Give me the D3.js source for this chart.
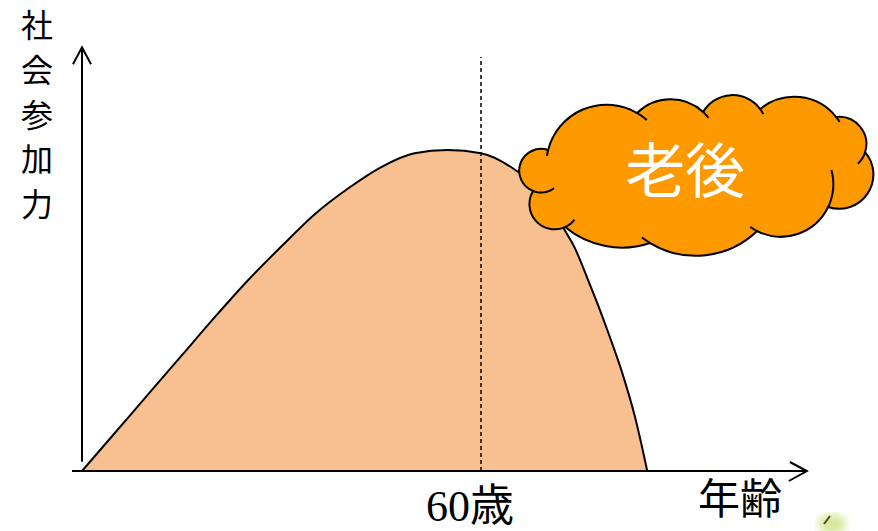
<!DOCTYPE html>
<html>
<head>
<meta charset="utf-8">
<script src="https://cdn.jsdelivr.net/npm/d3@7"></script>
<style>
  html, body { margin: 0; padding: 0; background: #fff; }
  svg { display: block; }
</style>
</head>
<body>
<svg id="chart" width="878" height="531"></svg>
<script>
// ---- data ----
const ages = [0, 5, 10, 15, 20, 25, 30, 35, 40, 45, 50, 55, 60, 65, 69, 72.3, 74.1, 76.1, 77.6, 79.1, 81.2, 83.2, 85];
const participation = [0, 12, 24, 36, 48, 59.5, 70, 80, 88, 94.7, 99, 100, 99, 94, 87, 76, 69.5, 59.5, 51.7, 43.3, 30.8, 16.5, 0];
const markerAge = 60;
const markerLabel = "60歳";
const xAxisLabel = "年齢";
const yAxisLabel = "社会参加力";
const cloudLabel = "老後";
const cloudCenter = [92.2, 92.2]; // age, participation

// cloud outline (px offsets from its centre) and bulge of each lobe
const cloudPts = [[-147,-25],[-58,-62],[8,-63],[65,-66],[141,-58],[170,-23],[133,32],[62,56],[-45,68],[-130,52],[-162,16]];
const cloudBulge = [0.25,0.2,0.27,0.21,0.27,0.38,0.21,0.17,0.13,0.37,0.49];
const creaseStart = [6,0,0,0,0,0,38,0,0,12,22];
const creaseEnd = [12,8,6,6,14,0,8,10,0,0,0];

// ---- scales ----
const svg = d3.select("#chart");
const x = d3.scaleLinear().domain([0, 60]).range([82, 481]);
const y = d3.scaleLinear().domain([0, 100]).range([471, 150]);

const pts = ages.map((a, i) => [a, participation[i]]);

// area
svg.append("path")
  .datum(pts)
  .attr("fill", "#F8C090")
  .attr("d", d3.area().x(d => x(d[0])).y0(y(0)).y1(d => y(d[1])).curve(d3.curveMonotoneX));

// curve
svg.append("path")
  .datum(pts)
  .attr("fill", "none")
  .attr("stroke", "#000")
  .attr("stroke-width", 2)
  .attr("d", d3.line().x(d => x(d[0])).y(d => y(d[1])).curve(d3.curveMonotoneX));

// dashed marker
svg.append("line")
  .attr("x1", x(markerAge)).attr("x2", x(markerAge))
  .attr("y1", y(0)).attr("y2", y(129))
  .attr("stroke", "#111").attr("stroke-width", 1.6)
  .attr("stroke-dasharray", "4,3");

// axes
const ax = svg.append("g").attr("stroke", "#000").attr("fill", "none").attr("stroke-width", 2);
const xs = x(-1.5), xe = x(109), y0 = y(0);
ax.append("line").attr("x1", xs).attr("x2", xe).attr("y1", y0).attr("y2", y0);
ax.append("path").attr("d", `M${xe-17},${y0-9}L${xe},${y0}L${xe-18},${y0+10}`);
const yTop = y(132), yBot = y(2.9), x0 = x(0);
ax.append("line").attr("x1", x0).attr("x2", x0).attr("y1", yBot).attr("y2", yTop);
ax.append("path").attr("d", `M${x0-9},${yTop+17}L${x0},${yTop}L${x0+9},${yTop+17}`);

// labels
const cjk = "'Noto Sans CJK JP', 'Noto Sans', sans-serif";
svg.append("g").selectAll("text")
  .data(Array.from(yAxisLabel))
  .join("text")
  .attr("x", 37)
  .attr("y", (d, i) => 37 + i * 44.8)
  .attr("text-anchor", "middle")
  .attr("font-family", cjk)
  .attr("font-size", 32)
  .attr("fill", "#000")
  .text(d => d);

svg.append("text")
  .attr("x", x(markerAge) - 11).attr("y", 521)
  .attr("text-anchor", "middle")
  .attr("font-family", "'Liberation Serif', 'Noto Sans CJK JP', serif")
  .attr("font-size", 44)
  .attr("fill", "#000")
  .text(markerLabel);

svg.append("text")
  .attr("x", 740).attr("y", 514)
  .attr("text-anchor", "middle")
  .attr("font-family", cjk)
  .attr("font-size", 42)
  .attr("fill", "#000")
  .text(xAxisLabel);

// ---- cloud ----
const cx = x(cloudCenter[0]), cy = y(cloudCenter[1]);
const P = cloudPts.map(p => [cx + p[0], cy + p[1]]);
const n = P.length;
const geo = P.map((A, i) => {
  const B = P[(i + 1) % n];
  const dx = B[0] - A[0], dy = B[1] - A[1];
  const c = Math.hypot(dx, dy);
  const nx = dy / c, ny = -dx / c;
  const h = cloudBulge[i] * c;
  const r = (c * c / 4 + h * h) / (2 * h);
  const mx = (A[0] + B[0]) / 2, my = (A[1] + B[1]) / 2;
  const C = [mx + nx * (h - r), my + ny * (h - r)];
  let a0 = Math.atan2(A[1] - C[1], A[0] - C[0]);
  let a1 = Math.atan2(B[1] - C[1], B[0] - C[0]);
  while (a1 < a0) a1 += 2 * Math.PI;
  return {A, B, r, C, a0, a1, large: cloudBulge[i] > 0.5 ? 1 : 0};
});
let d = `M${P[0][0]},${P[0][1]}`;
geo.forEach(g => { d += `A${g.r},${g.r} 0 ${g.large} 1 ${g.B[0]},${g.B[1]}`; });
d += "Z";
const cloud = svg.append("g");
cloud.append("path").attr("d", d).attr("fill", "#FF9900").attr("stroke", "#000").attr("stroke-width", 2).attr("stroke-linejoin", "round");
const crease = (g, from, to) => {
  const s = d3.range(0, 1.0001, 0.1).map(t => {
    const a = from + (to - from) * t;
    return [g.C[0] + g.r * Math.cos(a), g.C[1] + g.r * Math.sin(a)];
  });
  cloud.append("path").attr("d", d3.line()(s)).attr("fill", "none").attr("stroke", "#000").attr("stroke-width", 2);
};
geo.forEach((g, i) => {
  if (creaseEnd[i]) crease(g, g.a1, g.a1 + creaseEnd[i] / g.r);
  if (creaseStart[i]) crease(g, g.a0 - creaseStart[i] / g.r, g.a0);
});
cloud.append("text")
  .attr("x", cx - 10).attr("y", cy + 18)
  .attr("text-anchor", "middle")
  .attr("font-family", cjk)
  .attr("font-size", 60)
  .attr("fill", "#fff")
  .text(cloudLabel);

// faint clipart fragment at bottom-right
const defs = svg.append("defs");
defs.append("filter").attr("id", "blur").append("feGaussianBlur").attr("stdDeviation", 4);
svg.append("ellipse").attr("cx", 832).attr("cy", 524).attr("rx", 14).attr("ry", 10)
  .attr("fill", "#d6e89a").attr("filter", "url(#blur)");
svg.append("line").attr("x1", 824).attr("y1", 524).attr("x2", 830).attr("y2", 516)
  .attr("stroke", "#5a4a1a").attr("stroke-width", 2);
</script>
</body>
</html>
